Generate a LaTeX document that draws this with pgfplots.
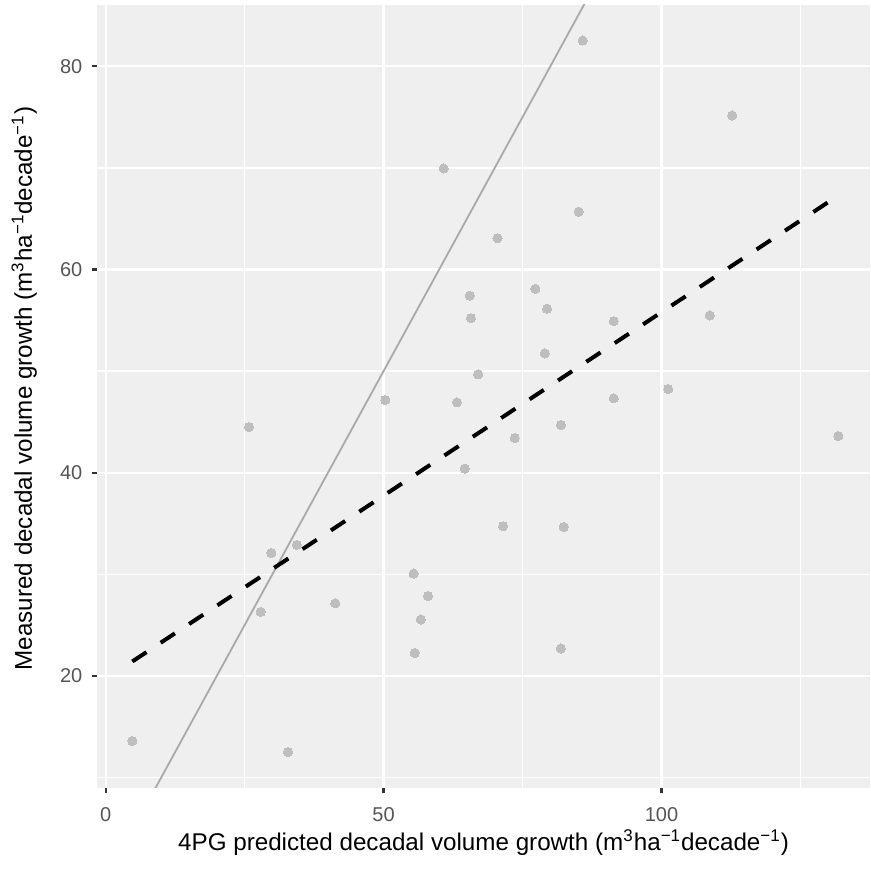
\documentclass[border=0pt]{standalone}
\usepackage{fontspec}
\setmainfont{Liberation Sans}
\usepackage{pgfplots}
\pgfplotsset{compat=1.18}
\usepackage{pgfplotstable}

\definecolor{panelbg}{HTML}{EFEFEF}
\definecolor{ticktext}{HTML}{555555}
\definecolor{tickmark}{HTML}{333333}
\definecolor{pointgrey}{HTML}{BEBEBE}
\definecolor{oneline}{HTML}{A9A9A9}

% predicted (4PG) vs measured decadal volume growth per plot
\pgfplotstableread{
pred  meas
4.8   13.6
25.8  44.5
27.9  26.3
29.8  32.1
32.8  12.5
34.4  32.9
41.3  27.15
50.3  47.15
55.4  30.07
55.6  22.26
56.7  25.55
58.0  27.87
60.8  69.94
63.2  46.92
64.6  40.4
65.5  57.42
65.7  55.21
67.0  49.68
70.5  63.08
71.5  34.73
73.6  43.41
77.3  58.1
79.0  51.74
79.4  56.14
81.9  44.69
81.9  22.7
82.4  34.66
85.1  65.68
85.8  82.53
91.4  54.92
91.4  47.32
101.2 48.23
108.7 55.48
112.7 75.15
131.8 43.61
}\growth

% 1:1 reference line
\pgfplotstableread{
pred meas
0    0
140  140
}\oneone

% least-squares fit over the range of the predictions
\pgfplotstableread{
pred  meas
4.8   21.42
131.8 67.28
}\fit

\newcommand{\volunit}{(m\textsuperscript{3}ha\textsuperscript{−1}decade\textsuperscript{−1})}
\newcommand{\titlefont}{\fontsize{12.1}{12.1}\selectfont}

\begin{document}
\begin{tikzpicture}
\useasboundingbox (-48.5pt,-41pt) rectangle (386.5pt,394pt);
\begin{axis}[
  name=ax,
  scale only axis,
  width=386.5pt, height=391.5pt,
  xmin=-1.55, xmax=137.5, ymin=8.97, ymax=86.03,
  axis line style={draw=none},
  axis background/.style={fill=panelbg},
  xtick={0,50,100}, ytick={20,40,60,80},
  minor xtick={25,75,125}, minor ytick={10,30,50,70},
  grid=both,
  major grid style={white, line width=1.1pt},
  minor grid style={white, line width=0.7pt},
  xtick pos=bottom, ytick pos=left,
  tick align=outside,
  major tick length=2.65pt, minor tick length=0pt,
  major tick style={tickmark, line width=1.1pt},
  /pgf/number format/assume math mode=true,
  ticklabel style={font=\fontsize{10}{10}\selectfont, text=ticktext, inner sep=0pt},
  yticklabel style={anchor=east, xshift=-4.5pt},
  xticklabel style={anchor=north, yshift=-6.8pt},
]
\addplot[oneline, line width=0.9pt] table[x=pred, y=meas] {\oneone};
\addplot[only marks, mark=*, mark size=2.3pt, draw=pointgrey, fill=pointgrey,
  mark options={fill=pointgrey, draw=pointgrey, line width=0pt}]
  table[x=pred, y=meas] {\growth};
\addplot[black, line width=2pt, line cap=butt, dash pattern=on 8.5pt off 8.5pt]
  table[x=pred, y=meas] {\fit};
\end{axis}

\node[anchor=base, font=\titlefont] at ([yshift=-31pt]ax.south)
  {4PG predicted decadal volume growth \volunit};
\node[rotate=90, anchor=base, font=\titlefont] at ([xshift=-32.5pt, yshift=4pt]ax.west)
  {Measured decadal volume growth \volunit};
\end{tikzpicture}
\end{document}
